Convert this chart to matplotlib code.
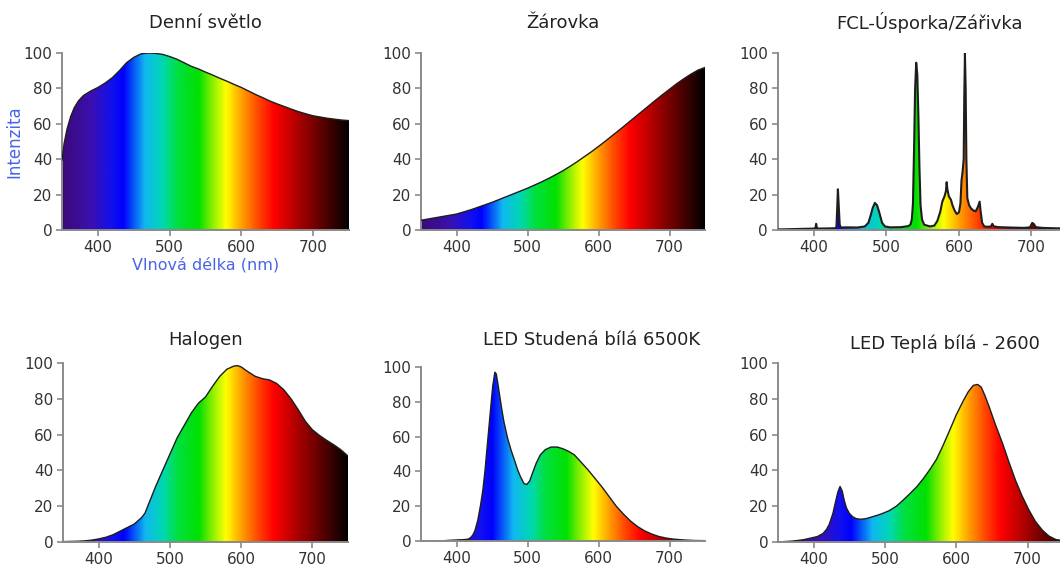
import numpy as np
import matplotlib
matplotlib.use('Agg')
import matplotlib.pyplot as plt
from matplotlib.colors import LinearSegmentedColormap
from matplotlib.patches import Polygon

plt.rcParams['font.family'] = ['DejaVu Sans']

# ---- data (wavelength nm, relative intensity) ----
day_nm = [350, 353, 357, 362, 367, 373, 380, 390, 400, 410, 420, 430, 440, 450, 460, 470,
          480, 490, 500, 510, 520, 530, 540, 550, 560, 570, 580, 590, 600, 610, 620, 630,
          640, 650, 660, 670, 680, 690, 700, 710, 720, 730, 740, 750]
day_val = [39.5, 49, 57, 64, 69, 73, 76, 78.5, 80.5, 83, 86, 90, 94.5, 97.5, 99.5, 100,
           99.8, 99.2, 98, 96.5, 94.5, 92.5, 91, 89.2, 87.5, 85.7, 84, 82.2, 80.5, 78.5, 76.5, 74.7,
           72.8, 71.2, 69.7, 68.2, 66.8, 65.6, 64.5, 63.8, 63.1, 62.6, 62.1, 61.8]

inc_nm = [350, 360, 370, 380, 390, 400, 410, 420, 430, 440, 450, 460, 470, 480, 490, 500,
          510, 520, 530, 540, 550, 560, 570, 580, 590, 600, 610, 620, 630, 640, 650, 660,
          670, 680, 690, 700, 710, 720, 730, 740, 750]
inc_val = [5.5, 6.2, 6.9, 7.6, 8.3, 9.0, 10.2, 11.4, 12.8, 14.2, 15.6, 17.2, 18.8, 20.4, 22, 23.6,
           25.4, 27.2, 29.2, 31.3, 33.5, 36, 38.6, 41.4, 44.2, 47.2, 50.3, 53.5, 56.7, 60, 63.3, 66.6,
           69.9, 73.2, 76.4, 79.5, 82.6, 85.4, 88, 90.3, 91.8]

fcl_nm = [350, 370, 390, 400, 402, 403, 404, 406, 420, 430, 431, 432, 433, 434, 435.5, 437,
          445, 460, 470, 475, 478, 481, 484, 487, 490, 494, 498, 505, 520, 530, 533, 535,
          536.5, 538, 539.5, 541, 542.5, 544, 545.5, 547, 549, 552, 560, 566, 570, 574, 577,
          580, 582, 583, 584, 586, 589, 591, 594, 597, 600, 602, 603.5, 605, 606.5, 607.3, 608.2,
          609.2, 610.2, 611.5, 614, 617, 620, 623, 626, 628.5, 630, 632, 635, 640, 644, 646, 648,
          655, 670, 690, 698, 701, 703, 706, 715, 730, 750]
fcl_val = [0.3, 0.5, 0.7, 0.8, 1, 3.5, 1.2, 0.8, 0.9, 1.0, 2, 12, 23, 15, 3, 1.4,
           1.5, 1.4, 2, 4, 8, 12.5, 15.3, 14, 10, 4, 2, 1.5, 1.6, 2.2, 3, 6,
           15, 45, 80, 94.5, 88, 65, 35, 14, 6, 3, 2, 2.5, 5, 10, 16,
           19, 22, 27, 23, 19, 17, 14, 11, 9, 10, 15, 28, 33, 40, 75, 100,
           80, 40, 18, 14, 12, 11, 10.5, 13, 16, 10, 4, 2, 1.8, 2, 3.5, 2,
           1.6, 1.4, 1.2, 1.5, 4, 3.5, 1.6, 1.2, 1, 0.8]

hal_nm = [350, 370, 380, 390, 400, 410, 420, 430, 440, 450, 460, 465, 470, 475, 480, 490,
          500, 510, 520, 530, 540, 550, 560, 570, 580, 590, 595, 600, 610, 620, 630, 640,
          650, 660, 670, 680, 690, 700, 710, 720, 730, 740, 750]
hal_val = [0.2, 0.4, 0.6, 1.0, 1.7, 2.6, 4.0, 6.0, 8.0, 10, 13.5, 16, 21, 26, 31, 40,
           49, 58, 65, 72, 77.5, 81, 87, 92.5, 96.5, 98.3, 98.5, 97.8, 95, 92.5, 91.2, 90.5,
           88.5, 85, 80, 74, 67.5, 62.7, 59.5, 56.8, 54.3, 51.5, 48]

cold_nm = [350, 380, 390, 400, 410, 416, 420, 423, 426, 430, 434, 437, 440, 444, 448, 451,
           454, 456, 458, 461, 464, 467, 472, 477, 482, 486, 490, 495, 499, 503, 507, 512,
           518, 525, 533, 542, 550, 558, 566, 575, 585, 594, 605, 615, 625, 635, 645, 655,
           665, 675, 685, 695, 705, 720, 735, 750]
cold_val = [0, 0.1, 0.4, 0.6, 0.8, 1, 2, 3.5, 6, 12, 21, 29, 40, 58, 76, 89,
            97, 96, 91, 83, 75, 68, 59, 52, 46, 41, 37, 33, 32.5, 34.5, 39, 44.5,
            49.5, 52.5, 54, 54, 53, 51.5, 49.5, 45.5, 41, 36.5, 31, 25.5, 20, 15.5, 11.5, 8.3,
            5.8, 4, 2.6, 1.7, 1.1, 0.6, 0.3, 0.2]

warm_nm = [350, 370, 385, 394, 405, 413, 418, 422, 427, 431, 434, 437, 440, 443, 446, 450,
           455, 460, 466, 473, 480, 490, 497, 506, 516, 525, 535, 545, 554, 563, 572, 581,
           591, 600, 610, 617, 624, 630, 635, 640, 646, 655, 665, 674, 683, 692, 702, 711,
           721, 730, 740, 750]
warm_val = [0, 0.5, 1.2, 2, 3, 4.7, 7, 10, 16, 23, 28, 31, 28.5, 23, 19, 16,
            14, 13, 12.7, 13, 13.8, 15, 16, 17.5, 20, 23.2, 27, 31, 35.5, 40.5, 46, 53.5,
            62.6, 71, 79, 84, 87.5, 88, 86.5, 82, 75.7, 65.5, 55, 44.5, 34.6, 26, 17.8, 11.5,
            6.5, 3.3, 1.3, 0.8]

titles = ['Denní světlo', 'Žárovka', 'FCL-Úsporka/Zářivka',
          'Halogen', 'LED Studená bílá 6500K', 'LED Teplá bílá - 2600']
series = [(day_nm, day_val), (inc_nm, inc_val), (fcl_nm, fcl_val),
          (hal_nm, hal_val), (cold_nm, cold_val), (warm_nm, warm_val)]

# spectrum colours by wavelength
stops = [(350, '#3c0a78'), (390, '#3a10b0'), (420, '#1010f0'), (435, '#0000ff'),
         (465, '#10b8f0'), (490, '#00d8b0'), (510, '#00e040'), (540, '#00e000'),
         (560, '#90f000'), (578, '#ffff00'), (600, '#ffa000'), (625, '#ff4000'),
         (645, '#ff0000'), (690, '#900000'), (750, '#000000')]
spec_cmap = LinearSegmentedColormap.from_list(
    'spec', [((w - 350) / 400.0, c) for w, c in stops])
# the two LED panels have their colour band shifted a bit to the red
grad_shift = [0, 0, 0, 0, 15, 17]

# axes boxes in figure fractions [left, bottom, width, height]
boxes = [[0.0585, 0.5958, 0.2708, 0.3111],
         [0.3972, 0.5958, 0.2679, 0.3111],
         [0.7337, 0.5958, 0.2736, 0.3111],
         [0.0594, 0.0475, 0.2689, 0.3146],
         [0.3972, 0.0492, 0.2679, 0.3058],
         [0.7340, 0.0475, 0.2690, 0.3146]]
title_pos = [(0.5, 1.17), (0.5, 1.17), (0.524, 1.17),
             (0.5, 1.128), (0.60, 1.155), (0.585, 1.11)]

fig = plt.figure(figsize=(10.6, 5.69), dpi=100)
grey = '#8a8a8a'
wl = np.linspace(350, 750, 800)

for i, (nm, val) in enumerate(series):
    ax = fig.add_axes(boxes[i])
    ax.set_xlim(350, 750)
    ax.set_ylim(0, 100)
    g = np.clip((wl - grad_shift[i] - 350) / 400.0, 0, 1).reshape(1, -1)
    im = ax.imshow(g, cmap=spec_cmap, vmin=0, vmax=1, extent=[350, 750, 0, 100],
                   aspect='auto', origin='lower', zorder=1)
    pts = np.column_stack([[nm[0]] + list(nm) + [nm[-1]], [0] + list(val) + [0]])
    clip = Polygon(pts, closed=True, facecolor='none', edgecolor='none',
                   transform=ax.transData)
    ax.add_patch(clip)
    im.set_clip_path(clip)
    ax.plot(nm, val, color='#1e1e1e', lw=1.0 if i != 2 else 1.5, zorder=3)

    for s in ['top', 'right']:
        ax.spines[s].set_visible(False)
    for s in ['left', 'bottom']:
        ax.spines[s].set_color(grey)
        ax.spines[s].set_linewidth(1.4)
    ax.spines['bottom'].set_zorder(4)
    ax.set_xticks([400, 500, 600, 700])
    ax.set_yticks([0, 20, 40, 60, 80, 100])
    ax.tick_params(direction='out', length=4, width=1.2, color=grey,
                   labelsize=11, labelcolor='#333333', pad=3)
    ax.text(title_pos[i][0], title_pos[i][1], titles[i], transform=ax.transAxes,
            ha='center', va='center', fontsize=13, color='#222222')

    if i == 0:
        ax.set_ylabel('Intenzita', color='#4a63e8', fontsize=12, labelpad=0)
        ax.set_xlabel('Vlnová délka (nm)', color='#4a63e8', fontsize=11.5, labelpad=2)

fig.savefig('out.png', dpi=100)
